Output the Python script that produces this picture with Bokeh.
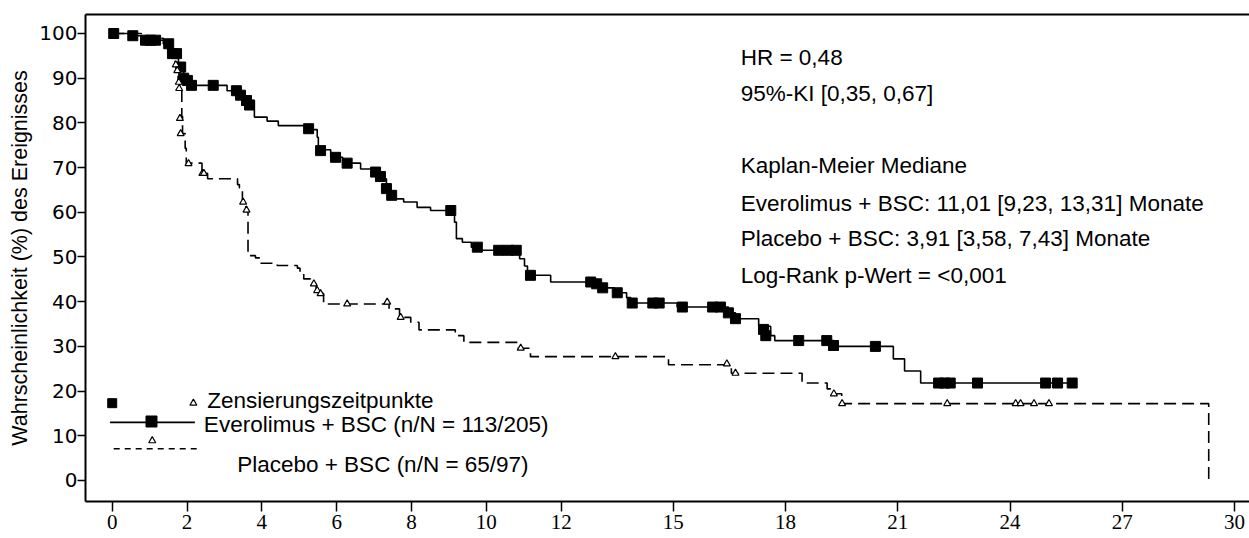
from bokeh.plotting import figure
from bokeh.models import Range1d, FixedTicker, LinearAxis
from bokeh.core.properties import value
from bokeh.embed import file_html
from bokeh.resources import INLINE

# ---------------- data ----------------
x_ticks = [0, 2, 4, 6, 8, 10, 12, 15, 18, 21, 24, 27, 30]
y_ticks = [0, 10, 20, 30, 40, 50, 60, 70, 80, 90, 100]

# Everolimus + BSC: Kaplan-Meier step curve (time in months, % without event)
evero_t = [0, 0.45, 0.78, 1.37, 1.61, 1.77, 1.91, 2.09, 3.07, 3.43, 3.62, 3.80, 4.14, 4.44,
           5.30, 5.48, 5.51, 5.84, 6.16, 6.64, 6.96, 7.23, 7.33, 7.44, 7.55, 7.79, 8.15, 8.51,
           9.15, 9.20, 9.36, 9.60, 9.84, 10.89, 11.02, 11.10, 11.72, 13.00, 13.42, 13.75, 13.86,
           15.10, 16.47, 16.66, 17.28, 17.60, 17.71, 19.28, 20.88, 21.18, 21.61, 25.67]
evero_s = [100, 99.5, 98.5, 97.7, 95.5, 92.5, 90, 88.4, 87.2, 86, 85, 81.3, 80.4, 79.4,
           78.5, 76.8, 74, 72.3, 71, 69.7, 69, 67.5, 65.3, 63.8, 63, 62.3, 61.1, 60.4,
           57.8, 54.1, 53.3, 52.2, 51.5, 49.6, 48, 45.9, 44.4, 43.1, 42, 40.9, 39.7,
           38.8, 37.5, 36.2, 34.5, 32.4, 31.3, 30, 27.2, 24.5, 21.8, 21.8]
# Everolimus censoring times
evero_cx = [0.04, 0.55, 0.89, 1.02, 1.16, 1.51, 1.61, 1.72, 1.83, 1.91, 2.01, 2.12, 2.70, 3.32,
            3.43, 3.59, 3.67, 5.25, 5.57, 5.97, 6.28, 7.04, 7.17, 7.33, 7.47, 9.05, 9.76, 10.33,
            10.59, 10.80, 11.18, 12.79, 12.95, 13.11, 13.50, 13.90, 14.45, 14.62, 15.24, 16.05,
            16.26, 16.47, 16.66, 17.41, 17.47, 18.35, 19.10, 19.28, 20.40, 22.09, 22.25, 22.40,
            23.13, 24.95, 25.27, 25.66]
evero_cy = [100, 99.5, 98.5, 98.5, 98.5, 97.7, 95.5, 95.5, 92.5, 90, 89.5, 88.4, 88.4, 87.2,
            86.2, 85, 84, 78.7, 73.8, 72.3, 71, 69, 68, 65.3, 63.8, 60.4, 52.2, 51.5,
            51.5, 51.5, 45.9, 44.4, 44, 43.1, 42, 39.7, 39.7, 39.7, 38.8, 38.8,
            38.8, 37.5, 36.2, 33.8, 32.4, 31.3, 31.3, 30.2, 30, 21.8, 21.8, 21.8,
            21.8, 21.8, 21.8, 21.8]

# Placebo + BSC
plac_t = [0, 0.78, 1.37, 1.58, 1.68, 1.76, 1.82, 1.86, 1.88, 1.95, 1.98, 2.40, 2.55, 3.35, 3.40,
          3.48, 3.57, 3.63, 3.83, 3.96, 4.41, 4.95, 5.02, 5.12, 5.30, 5.45, 5.55, 5.65, 7.40,
          7.68, 7.98, 8.20, 9.17, 9.40, 10.85, 11.18, 14.87, 16.55, 18.44, 19.11, 19.30, 19.50,
          29.31]
plac_s = [100, 98.9, 97.7, 95.5, 93, 89.5, 87.7, 81.5, 77.6, 74.3, 71, 68.7, 67.5, 66.2, 65.5,
          62.3, 60.5, 50.3, 49.8, 48.6, 48.1, 47.5, 46.6, 45.1, 44, 42.5, 41.8, 39.5, 38.4,
          36.5, 35.4, 33.7, 32.4, 30.9, 29.6, 27.7, 25.9, 24, 21.8, 20.5, 19.4, 17.2,
          0]
plac_cx = [1.70, 1.74, 1.78, 1.79, 1.81, 1.83, 2.04, 2.41, 2.45, 3.50, 3.59, 5.39, 5.48, 5.57,
           6.28, 7.35, 7.71, 10.92, 13.45, 16.43, 16.66, 19.29, 19.51, 22.32, 24.15, 24.28,
           24.64, 25.04]
plac_cy = [93, 91.7, 89.1, 87.7, 81, 77.6, 70.9, 68.7, 68.7, 62.3, 60.5, 44, 42.5, 41.8,
           39.5, 39.9, 36.5, 29.6, 27.7, 26.1, 24, 19.4, 17.2, 17.2, 17.2, 17.2,
           17.2, 17.2]

# statistics box
ann_text = ["HR = 0,48",
            "95%-KI [0,35, 0,67]",
            "Kaplan-Meier Mediane",
            "Everolimus + BSC: 11,01 [9,23, 13,31] Monate",
            "Placebo + BSC: 3,91 [3,58, 7,43] Monate",
            "Log-Rank p-Wert = <0,001"]

# legend texts
leg_text = ["Zensierungszeitpunkte",
            "Everolimus + BSC (n/N = 113/205)",
            "Placebo + BSC (n/N = 65/97)"]

y_label = "Wahrscheinlichkeit (%) des Ereignisses"

# ---------------- layout / positions ----------------
ann_x = [16.8] * len(ann_text)
ann_y = [94.7, 86.5, 70.5, 62.0, 54.1, 45.9]
leg_x = [2.54, 2.45, 3.34]
leg_y = [17.9, 12.5, 3.6]

SANS = "Liberation Sans"

p = figure(width=1249, height=538, output_backend="svg", toolbar_location=None,
           x_range=Range1d(-0.714, 30.40), y_range=Range1d(-4.7, 104.25),
           min_border_left=85, min_border_right=0, min_border_top=14, min_border_bottom=37)
p.outline_line_color = None
p.grid.grid_line_color = None
p.background_fill_color = "white"
p.border_fill_color = "white"

# x axis
xa = p.xaxis[0]
xa.ticker = FixedTicker(ticks=x_ticks)
xa.axis_line_width = 2
xa.axis_line_color = "black"
xa.major_tick_line_width = 1.5
xa.major_tick_line_color = "black"
xa.major_tick_out = 10
xa.major_tick_in = 0
xa.minor_tick_line_color = None
xa.major_label_standoff = 3
xa.major_label_text_font = "Liberation Serif"
xa.major_label_text_font_size = "21px"
xa.major_label_text_color = "black"

# y axis
ya = p.yaxis[0]
ya.ticker = FixedTicker(ticks=y_ticks)
ya.axis_line_width = 2
ya.axis_line_color = "black"
ya.major_tick_line_width = 1.5
ya.major_tick_line_color = "black"
ya.major_tick_out = 8
ya.major_tick_in = 0
ya.minor_tick_line_color = None
ya.major_label_standoff = 0
ya.major_label_text_font = "DejaVu Sans"
ya.major_label_text_font_size = "20px"
ya.major_label_text_color = "black"
ya.axis_label = y_label
ya.axis_label_text_font = SANS
ya.axis_label_text_font_size = "21.5px"
ya.axis_label_text_font_style = "normal"
ya.axis_label_text_color = "black"
ya.axis_label_standoff = 4

# top frame line
top = LinearAxis(ticker=FixedTicker(ticks=[]), axis_line_width=2, axis_line_color="black",
                 major_tick_out=0, major_tick_in=0, minor_tick_out=0, minor_tick_in=0,
                 major_label_standoff=0, major_label_text_font_size="0px")
p.add_layout(top, "above")

# curves
p.step(x=evero_t, y=evero_s, mode="after", line_color="black", line_width=1.6)
p.step(x=plac_t, y=plac_s, mode="after", line_color="black", line_width=1.6, line_dash="12 6")
p.scatter(x=evero_cx, y=evero_cy, marker="square", size=10, fill_color="black", line_color="black")
p.scatter(x=plac_cx, y=plac_cy, marker="triangle", size=7, fill_color="white",
          line_color="black", line_width=1.2)

# legend (drawn by hand, like the SAS original)
p.line(x=[-0.06, 2.21], y=[13.0, 13.0], line_color="black", line_width=1.6)
p.line(x=[0.04, 2.27], y=[7.1, 7.1], line_color="black", line_width=1.6, line_dash="6 5")
p.scatter(x=[0.0], y=[17.3], marker="square", size=9, fill_color="black", line_color="black")
p.scatter(x=[1.05], y=[13.2], marker="square", size=11, fill_color="black", line_color="black")
p.scatter(x=[2.17, 1.07], y=[17.3, 8.9], marker="triangle", size=7, fill_color="white",
          line_color="black", line_width=1.2)

p.text(x=leg_x, y=leg_y, text=leg_text, text_font=value(SANS), text_font_size="22.5px",
       text_baseline="alphabetic", text_align="left", text_color="black")
p.text(x=ann_x, y=ann_y, text=ann_text, text_font=value(SANS), text_font_size="22.5px",
       text_baseline="alphabetic", text_align="left", text_color="black")

open("out.html", "w").write(file_html(p, INLINE))
